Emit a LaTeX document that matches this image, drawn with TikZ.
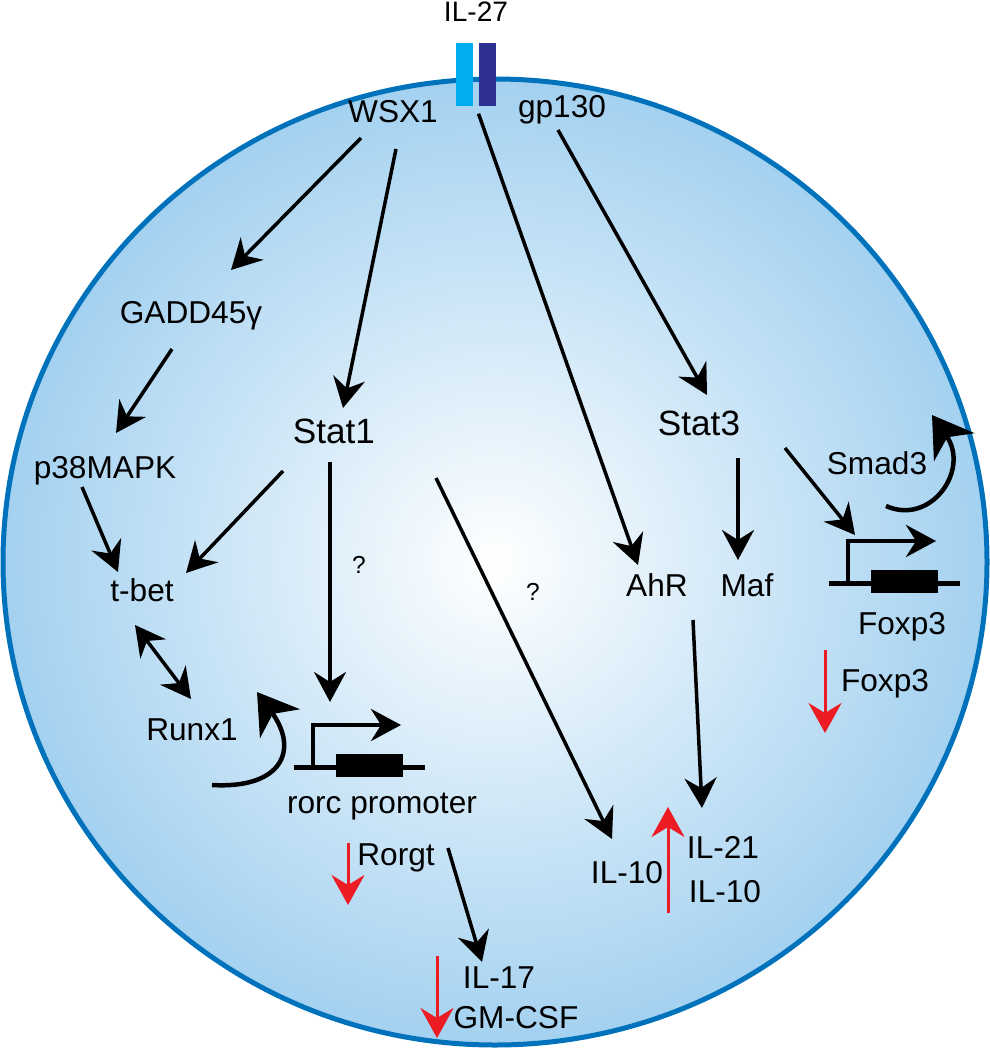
\documentclass[tikz,border=0pt]{standalone}
\usepackage{fontspec}
\setmainfont{Liberation Sans}
\usetikzlibrary{arrows.meta}
\definecolor{cellblue}{RGB}{163,209,240}
\definecolor{wallblue}{RGB}{0,114,188}
\definecolor{wsxblue}{RGB}{0,174,239}
\definecolor{gpblue}{RGB}{46,49,146}
\definecolor{downred}{RGB}{237,28,36}

\begin{document}
\begin{tikzpicture}[x=0.1mm, y=-0.1mm,
  lbl/.style={anchor=base, inner sep=0pt, font=\fontsize{9}{11}\selectfont},
  stat/.style={lbl, font=\fontsize{10}{12}\selectfont},
  qmark/.style={lbl, font=\fontsize{7}{8}\selectfont},
  bar/.style={inner sep=0pt, minimum width=1.7mm, minimum height=6.3mm},
  act/.style={line width=0.35mm, -{Stealth[length=3mm,width=3.2mm,inset=1mm]}},
  dblact/.style={line width=0.35mm, {Stealth[length=3mm,width=3.2mm,inset=1mm]}-{Stealth[length=3mm,width=3.2mm,inset=1mm]}},
  curlarrow/.style={line width=0.45mm, -{Stealth[length=3.9mm,width=4.9mm,inset=1.2mm]}},
  redarrow/.style={color=downred, line width=0.3mm, -{Stealth[length=3mm,width=3.3mm,inset=1mm]}},
  promoter/.pic={
    \draw[line width=0.5mm] (-19,0) -- (112,0);
    \fill (23,-13) rectangle (90,10);
    \draw[line width=0.45mm, -{Stealth[length=3mm,width=3.2mm,inset=1mm]}] (0,2) -- (0,-42) -- (88,-42);
  }]
  \useasboundingbox (0,0) rectangle (990,1050);

  % cell
  \shade[inner color=white, outer color=cellblue] (495,562) ellipse [x radius=49.2mm, y radius=48.3mm];
  \draw[wallblue, line width=0.5mm] (495,562) ellipse [x radius=49.2mm, y radius=48.3mm];

  % receptor
  \node[lbl, font=\fontsize{8}{10}\selectfont] (il27) at (476,22) {IL-27};
  \node[bar, fill=wsxblue] (wsxbar) at (464.5,74.5) {};
  \node[bar, fill=gpblue] (gpbar) at (487.5,74.5) {};

  \node[lbl] (wsx) at (393,123) {WSX1};
  \node[lbl] (gp) at (562,118) {gp130};
  \node[lbl] (gadd) at (191,323) {GADD45γ};
  \node[lbl] (p38) at (105,478) {p38MAPK};
  \node[lbl] (tbet) at (142,601) {t-bet};
  \node[lbl] (runx) at (192,740) {Runx1};
  \node[stat] (stat1) at (334,443) {Stat1};
  \node[stat] (stat3) at (699,435) {Stat3};
  \node[lbl] (ahr) at (657,596) {AhR};
  \node[lbl] (maf) at (747,596) {Maf};
  \node[lbl] (smad) at (877,474) {Smad3};
  \node[lbl] (foxpA) at (902,634) {Foxp3};
  \node[lbl] (foxpB) at (885,691) {Foxp3};
  \node[lbl] (rorc) at (382,813) {rorc promoter};
  \node[lbl] (rorgt) at (396,865) {Rorgt};
  \node[lbl] (il10a) at (627,883) {IL-10};
  \node[lbl] (il21) at (723,858) {IL-21};
  \node[lbl] (il10b) at (725,902) {IL-10};
  \node[lbl] (il17) at (499,988) {IL-17};
  \node[lbl] (gmcsf) at (516,1028) {GM-CSF};
  \node[qmark] (q1) at (359,573) {?};
  \node[qmark] (q2) at (533,600) {?};

  % promoters
  \coordinate (rorcp) at (313,767);
  \coordinate (foxpp) at (848,583);
  \pic at (rorcp) {promoter};
  \pic at (foxpp) {promoter};

  \path[act]
  ([shift={(-32,15)}]wsx.base) edge ([shift={(40,-53)}]gadd.base)
  ([shift={(3,26)}]wsx.base) edge ([shift={(9,-35)}]stat1.base)
  ([shift={(-9,7)}]gpbar.south) edge ([shift={(-19,-31)}]ahr.base)
  ([shift={(-4,12)}]gp.base) edge ([shift={(8,-40)}]stat3.base)
  ([shift={(-19,26)}]gadd.base) edge ([shift={(11,-45)}]p38.base)
  ([shift={(-23,9)}]p38.base) edge ([shift={(-24,-29)}]tbet.base)
  ([shift={(-51,28)}]stat1.base) edge ([shift={(44,-28)}]tbet.base)
  ([shift={(-4,19)}]stat1.base) edge ([shift={(17,-65)}]rorcp)
  ([shift={(102,35)}]stat1.base) edge ([shift={(-15,-44)}]il10a.base)
  ([shift={(39,23)}]stat3.base) edge ([shift={(-9,-36)}]maf.base)
  ([shift={(86,13)}]stat3.base) edge ([shift={(7,-48)}]foxpp)
  ([shift={(36,24)}]ahr.base) edge ([shift={(-21,-50)}]il21.base)
  ([shift={(52,-17)}]rorgt.base) edge ([shift={(-17,-26)}]il17.base);
  \draw[dblact] ([shift={(-7,24)}]tbet.base) -- ([shift={(-1,-41)}]runx.base);

  \draw[curlarrow] ([shift={(20,45)}]runx.base) .. controls +(70,4) and +(42,58) .. ([shift={(65,-48)}]runx.base);
  \draw[curlarrow] ([shift={(9,32)}]smad.base) .. controls +(45,20) and +(38,55) .. ([shift={(55,-59)}]smad.base);

  % up / down
  \path[redarrow]
  ([shift={(-48,-22)}]rorgt.base) edge ([shift={(-48,40)}]rorgt.base)
  ([shift={(-79,-72)}]gmcsf.base) edge ([shift={(-79,10)}]gmcsf.base)
  ([shift={(-55,55)}]il21.base) edge ([shift={(-55,-51)}]il21.base)
  ([shift={(-60,-41)}]foxpB.base) edge ([shift={(-60,42)}]foxpB.base);
\end{tikzpicture}
\end{document}
